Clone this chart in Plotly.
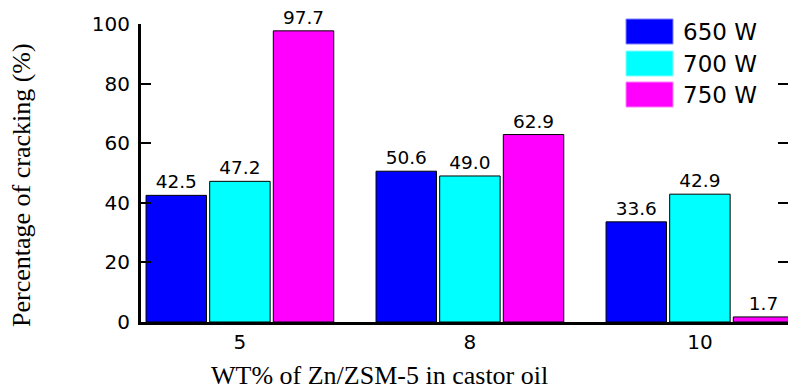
import plotly.graph_objects as go

categories = ["5", "8", "10"]
series_names = ["650 W", "700 W", "750 W"]
values_650 = [42.5, 50.6, 33.6]
values_700 = [47.2, 49.0, 42.9]
values_750 = [97.7, 62.9, 1.7]
y_ticks = [0, 20, 40, 60, 80, 100]

colors = ["#0000FF", "#00FFFF", "#FF00FF"]
legend_edges = ["#8080FF", "#80FFFF", "#FF80FF"]
all_values = [values_650, values_700, values_750]

W, H = 788, 391
L, R, T, B = 141, 0, 24, 69

fig = go.Figure()
for name, vals, col in zip(series_names, all_values, colors):
    fig.add_trace(go.Bar(
        x=categories, y=vals, name=name,
        marker=dict(color=col, line=dict(color="black", width=1)),
        text=[f"{v:.1f}" for v in vals], textposition="outside",
        textfont=dict(family="DejaVu Sans", size=18.5, color="black"),
        constraintext="none", cliponaxis=False, showlegend=False,
    ))

# legend drawn as boxes + labels in pixel positions
pw, ph = W - L - R, H - T - B
def px(x):
    return (x - L) / pw
def py(y):
    return (H - B - y) / ph

box_tops = [19, 51, 82]
for name, col, edge, top in zip(series_names, colors, legend_edges, box_tops):
    fig.add_shape(type="rect", xref="paper", yref="paper",
                  x0=px(626), x1=px(673), y0=py(top), y1=py(top + 25),
                  fillcolor=col, line=dict(color=edge, width=1), layer="above")
    fig.add_annotation(xref="paper", yref="paper", x=px(681), y=py(top + 12.5),
                       text=name, showarrow=False, xanchor="left", yanchor="middle",
                       font=dict(family="DejaVu Sans", size=23, color="black"))

# axis titles as annotations for exact placement
fig.add_annotation(xref="paper", yref="paper", x=px(379), y=py(375),
                   text="WT% of Zn/ZSM-5 in castor oil", showarrow=False,
                   xanchor="center", yanchor="middle",
                   font=dict(family="Liberation Serif", size=26, color="black"))
fig.add_annotation(xref="paper", yref="paper", x=px(22), y=py(185),
                   text="Percentage of cracking (%)", showarrow=False, textangle=-90,
                   xanchor="center", yanchor="middle",
                   font=dict(family="Liberation Serif", size=26, color="black"))

fig.update_layout(
    width=W, height=H,
    margin=dict(l=L, r=R, t=T, b=B, autoexpand=False),
    paper_bgcolor="white", plot_bgcolor="white",
    barmode="group", bargap=0.17, bargroupgap=0.05,
    font=dict(family="DejaVu Sans", color="black"),
)
fig.update_xaxes(
    type="category", range=[-0.43, 2.383], automargin=False,
    showline=True, linecolor="black", linewidth=3,
    ticks="", showgrid=False, zeroline=False,
    tickfont=dict(family="DejaVu Sans", size=20),
)
fig.update_yaxes(
    range=[0, 100], tickvals=y_ticks, automargin=False,
    showline=True, linecolor="black", linewidth=3, mirror="ticks",
    ticks="inside", ticklen=10, tickwidth=2, tickcolor="black",
    ticklabelstandoff=4,
    showgrid=False, zeroline=False,
    tickfont=dict(family="DejaVu Sans", size=20),
)

fig.write_html("out.html", config={"displayModeBar": False},
               post_script="document.body.style.margin='0';document.body.style.overflow='hidden';")
